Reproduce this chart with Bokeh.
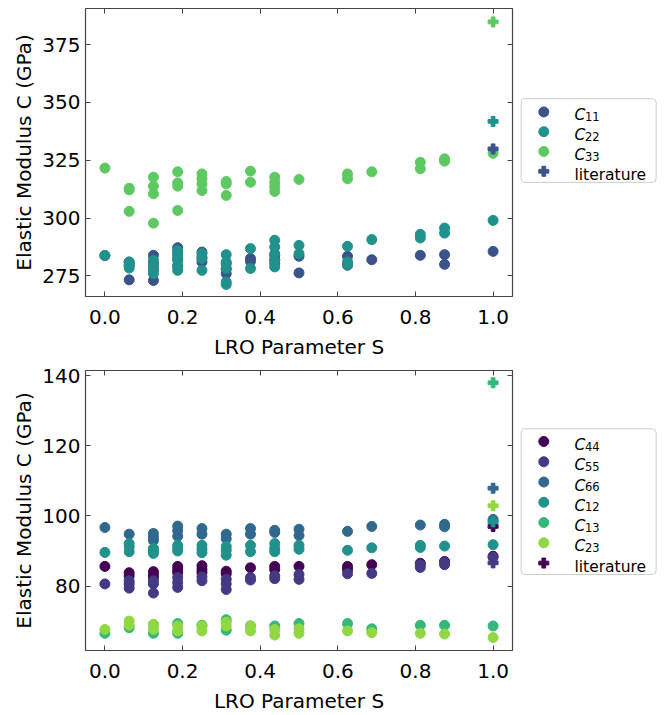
from bokeh.plotting import figure
from bokeh.models import Range1d, FixedTicker, PrintfTickFormatter, LinearAxis, CustomJSTickFormatter
from bokeh.layouts import column, row
from bokeh.embed import file_html
from bokeh.resources import INLINE
from bokeh.core.properties import value

# ---------------- data: top panel (C11, C22, C33) ----------------
c11_s = [0.0, 0.0625, 0.0625, 0.0625, 0.125, 0.125, 0.125, 0.125, 0.1875, 0.1875, 0.1875, 0.1875,
         0.25, 0.25, 0.25, 0.3125, 0.3125, 0.3125, 0.375, 0.375, 0.4375, 0.4375, 0.4375,
         0.5, 0.5, 0.625, 0.625, 0.6875, 0.8125, 0.875, 0.875, 1.0]
c11_v = [283.8, 273.3, 279.5, 281.0, 273.0, 278.0, 280.3, 283.9, 279.0, 282.5, 285.0, 287.2,
         281.0, 283.0, 285.3, 276.0, 278.0, 280.3, 281.3, 282.5, 280.3, 282.0, 283.9,
         276.3, 283.5, 279.6, 283.5, 282.0, 283.9, 280.0, 284.2, 285.6]

c22_s = [0.0, 0.0625, 0.0625, 0.0625, 0.125, 0.125, 0.125, 0.125, 0.1875, 0.1875, 0.1875, 0.1875, 0.1875,
         0.25, 0.25, 0.25, 0.3125, 0.3125, 0.3125, 0.3125, 0.3125, 0.375, 0.375,
         0.4375, 0.4375, 0.4375, 0.4375, 0.4375, 0.5, 0.5, 0.625, 0.625, 0.625, 0.6875,
         0.8125, 0.8125, 0.875, 0.875, 1.0]
c22_v = [283.8, 278.4, 279.6, 281.0, 276.0, 277.4, 279.6, 281.8, 277.4, 279.6, 281.8, 283.9, 286.0,
         277.4, 282.5, 284.6, 271.3, 272.4, 278.2, 281.0, 284.2, 278.2, 286.8,
         278.9, 281.8, 284.6, 287.5, 290.4, 284.6, 288.2, 280.0, 281.0, 287.8, 290.7,
         291.4, 293.0, 293.5, 295.7, 299.0]

c33_s = [0.0, 0.0625, 0.0625, 0.0625, 0.125, 0.125, 0.125, 0.125, 0.1875, 0.1875, 0.1875, 0.1875,
         0.25, 0.25, 0.25, 0.25, 0.3125, 0.3125, 0.3125, 0.375, 0.375,
         0.4375, 0.4375, 0.4375, 0.4375, 0.5, 0.625, 0.625, 0.6875, 0.8125, 0.8125, 0.875, 0.875, 1.0]
c33_v = [321.6, 302.9, 312.2, 312.9, 297.8, 310.5, 313.8, 317.7, 303.3, 313.8, 315.2, 320.0,
         311.9, 314.8, 317.0, 319.1, 309.8, 314.8, 315.8, 315.5, 320.3,
         311.5, 313.6, 315.5, 317.7, 316.7, 317.0, 319.1, 320.0, 321.3, 324.1, 324.6, 325.6, 328.0]

lit_top_s = [1.0, 1.0, 1.0]
lit_top_v = [329.9, 341.8, 384.8]   # C11, C22, C33 literature

# ---------------- data: bottom panel ----------------
c44_s = [0.0, 0.0625, 0.0625, 0.125, 0.125, 0.125, 0.1875, 0.1875, 0.1875, 0.25, 0.25, 0.25,
         0.3125, 0.3125, 0.375, 0.4375, 0.4375, 0.5, 0.625, 0.625, 0.6875, 0.8125, 0.875, 1.0]
c44_v = [85.6, 82.9, 83.8, 82.4, 83.3, 84.1, 83.8, 84.7, 85.6, 83.8, 84.7, 85.8,
         83.5, 84.2, 85.2, 84.7, 85.6, 85.6, 84.7, 85.6, 86.1, 86.5, 87.0, 88.5]

c55_s = [0.0, 0.0625, 0.0625, 0.0625, 0.125, 0.125, 0.125, 0.1875, 0.1875, 0.1875, 0.25, 0.25,
         0.3125, 0.3125, 0.3125, 0.375, 0.375, 0.4375, 0.4375, 0.5, 0.5, 0.625, 0.6875,
         0.8125, 0.8125, 0.875, 0.875, 1.0]
c55_v = [80.6, 79.4, 80.6, 81.5, 78.0, 80.6, 81.5, 79.6, 81.0, 82.4, 81.5, 82.6,
         79.0, 80.6, 81.9, 81.7, 82.4, 82.1, 82.9, 81.9, 83.3, 83.5, 83.6,
         85.3, 86.1, 86.1, 86.8, 88.2]

c66_s = [0.0, 0.0625, 0.125, 0.125, 0.125, 0.1875, 0.1875, 0.1875, 0.25, 0.25, 0.3125, 0.3125,
         0.375, 0.375, 0.4375, 0.4375, 0.5, 0.5, 0.625, 0.6875, 0.8125, 0.875, 0.875, 1.0]
c66_v = [96.7, 94.8, 93.0, 93.9, 95.0, 94.2, 95.8, 97.1, 94.8, 96.4, 93.5, 94.8,
         94.8, 96.4, 95.3, 95.9, 94.4, 96.2, 95.6, 97.0, 97.4, 96.9, 97.6, 99.0]

c12_s = [0.0, 0.0625, 0.0625, 0.0625, 0.125, 0.125, 0.125, 0.1875, 0.1875, 0.1875, 0.25, 0.25, 0.25,
         0.3125, 0.3125, 0.3125, 0.375, 0.375, 0.4375, 0.4375, 0.4375, 0.5, 0.5, 0.625, 0.6875,
         0.8125, 0.8125, 0.875, 1.0]
c12_v = [89.6, 89.8, 91.2, 92.1, 89.3, 90.0, 90.7, 90.0, 90.7, 91.6, 89.5, 90.5, 91.6,
         88.8, 90.2, 91.3, 89.8, 91.6, 89.8, 90.7, 92.1, 90.5, 91.6, 90.2, 90.9,
         91.0, 91.6, 91.4, 91.8]

c13_s = [0.0, 0.0625, 0.125, 0.125, 0.1875, 0.1875, 0.25, 0.3125, 0.3125, 0.375, 0.4375, 0.5,
         0.625, 0.6875, 0.8125, 0.875, 1.0]
c13_v = [66.5, 68.1, 66.5, 69.0, 66.5, 69.3, 68.8, 67.4, 70.4, 68.6, 68.6, 69.3,
         69.3, 67.8, 68.8, 68.8, 68.6]

c23_s = [0.0, 0.0625, 0.0625, 0.125, 0.125, 0.1875, 0.1875, 0.25, 0.25, 0.3125, 0.3125, 0.375, 0.375,
         0.4375, 0.4375, 0.5, 0.5, 0.625, 0.6875, 0.8125, 0.875, 1.0]
c23_v = [67.6, 68.8, 70.0, 67.6, 69.0, 67.2, 68.6, 67.2, 68.6, 68.6, 69.7, 67.2, 68.6,
         66.0, 67.6, 66.5, 67.8, 67.2, 66.7, 66.5, 66.3, 65.3]

lit_bot_s = [1.0, 1.0, 1.0, 1.0, 1.0, 1.0]
lit_bot_v = [97.0, 86.6, 107.9, 98.3, 138.0, 102.9]   # C44, C55, C66, C12, C13, C23

x_ticks = [0.0, 0.2, 0.4, 0.6, 0.8, 1.0]
top_y_ticks = [275, 300, 325, 350, 375]
bot_y_ticks = [80, 100, 120, 140]

top_labels = ["11", "22", "33"]
top_colors = ["#3b528b", "#21918c", "#5ec962"]
bot_labels = ["44", "55", "66", "12", "13", "23"]
bot_colors = ["#440154", "#443983", "#31688e", "#21918c", "#35b779", "#90d743"]

# ---------------- layout constants ----------------
FONT = "DejaVu Sans"
FW, FH = 427, 288
LEFT = 85
AX = "#444444"
MAIN_W = LEFT + FW + 6
LEG_W = 667 - MAIN_W


def style_axis(ax, ticks, labels=True):
    ax.ticker = FixedTicker(ticks=ticks)
    ax.major_tick_in = 5
    ax.major_tick_out = 0
    ax.minor_tick_line_color = None
    ax.axis_line_color = None
    ax.major_tick_line_color = AX
    ax.major_tick_line_width = 1
    if labels:
        ax.major_label_text_font = FONT
        ax.major_label_text_font_size = "20px"
        ax.major_label_text_color = "black"
        ax.axis_label_text_font = FONT
        ax.axis_label_text_font_size = "20px"
        ax.axis_label_text_font_style = "normal"
        ax.axis_label_text_color = "black"
    else:
        ax.formatter = CustomJSTickFormatter(code="return ''")
        ax.major_label_text_font_size = "1px"
        ax.major_label_standoff = 0


def make_main(height, btop, bbot, yr, yticks):
    p = figure(width=MAIN_W, height=height, x_range=Range1d(-0.05, 1.05), y_range=Range1d(*yr),
               output_backend="svg", toolbar_location=None,
               min_border_left=LEFT, min_border_right=6, min_border_top=btop, min_border_bottom=bbot)
    p.grid.visible = False
    p.outline_line_color = AX
    p.outline_line_width = 1.2
    style_axis(p.xaxis[0], x_ticks)
    p.xaxis[0].formatter = PrintfTickFormatter(format="%.1f")
    p.xaxis[0].major_label_standoff = 13
    p.xaxis[0].axis_label = "LRO Parameter S"
    p.xaxis[0].axis_label_standoff = 8
    style_axis(p.yaxis[0], yticks)
    p.yaxis[0].major_label_standoff = 5
    p.yaxis[0].axis_label = "Elastic Modulus C (GPa)"
    p.yaxis[0].axis_label_standoff = 3
    top_ax = LinearAxis()
    style_axis(top_ax, x_ticks, labels=False)
    p.add_layout(top_ax, "above")
    right_ax = LinearAxis()
    style_axis(right_ax, yticks, labels=False)
    p.add_layout(right_ax, "right")
    return p


def make_legend(height, box_top, box_h, row0, step, subs, colors):
    lf = figure(width=LEG_W, height=height, x_range=Range1d(0, LEG_W), y_range=Range1d(height, 0),
                output_backend="svg", toolbar_location=None, min_border=0,
                x_axis_location=None, y_axis_location=None)
    lf.grid.visible = False
    lf.outline_line_color = None
    lf.quad(left=2.7, right=137.7, top=box_top, bottom=box_top + box_h, fill_color="white",
            line_color="#cccccc", line_width=1, border_radius=4)
    rows = [row0 + step * i for i in range(len(subs) + 1)]
    lf.scatter(x=[25.3] * len(subs), y=rows[:-1], marker="circle", size=10, color=colors)
    lf.scatter(x=[25.3], y=[rows[-1]], marker="plus", size=10, color=colors[0])
    lf.text(x=[56] * len(subs), y=[r + 4.5 for r in rows[:-1]], text=["C"] * len(subs),
            text_font=value(FONT), text_font_style="italic", text_font_size="15.5px",
            text_baseline="alphabetic", text_align="left", text_color="black")
    lf.text(x=[66.5] * len(subs), y=[r + 5.8 for r in rows[:-1]], text=subs,
            text_font=value(FONT), text_font_size="11.5px",
            text_baseline="alphabetic", text_align="left", text_color="black")
    lf.text(x=[56], y=[rows[-1] + 4.5], text=["literature"],
            text_font=value(FONT), text_font_size="15.5px",
            text_baseline="alphabetic", text_align="left", text_color="black")
    return lf


# ---------------- top panel ----------------
H1 = 364
p1 = make_main(H1, 8, H1 - 8 - FH, (266.1, 390.6), top_y_ticks)
for s, v, c in [(c11_s, c11_v, top_colors[0]), (c22_s, c22_v, top_colors[1]), (c33_s, c33_v, top_colors[2])]:
    p1.scatter(x=s, y=v, marker="circle", size=10, color=c)
p1.scatter(x=lit_top_s, y=lit_top_v, marker="plus", size=10, color=top_colors)
l1 = make_legend(H1, 114.0, 105.7, 130.7, 25.0, top_labels, top_colors)

# ---------------- bottom panel ----------------
H2 = 715 - H1
p2 = make_main(H2, 6, H2 - 6 - FH, (61.6, 141.5), bot_y_ticks)
for s, v, c in [(c44_s, c44_v, bot_colors[0]), (c55_s, c55_v, bot_colors[1]), (c66_s, c66_v, bot_colors[2]),
                (c12_s, c12_v, bot_colors[3]), (c13_s, c13_v, bot_colors[4]), (c23_s, c23_v, bot_colors[5])]:
    p2.scatter(x=s, y=v, marker="circle", size=10, color=c)
p2.scatter(x=lit_bot_s, y=lit_bot_v, marker="plus", size=10, color=bot_colors)
l2 = make_legend(H2, 73.0, 182.7, 89.0, 25.4, bot_labels, bot_colors)

layout = column(row(p1, l1), row(p2, l2))
open("out.html", "w").write(file_html(layout, INLINE))
